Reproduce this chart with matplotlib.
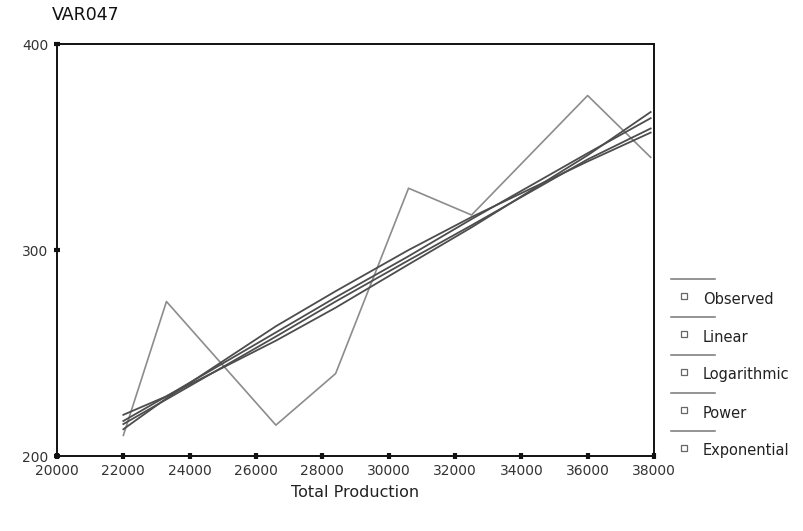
import matplotlib
matplotlib.use("Agg")
import matplotlib.pyplot as plt
from matplotlib.lines import Line2D

# values
production = [22000, 23300, 26600, 28400, 30600, 32500, 36000, 37900]
observed = [210, 275, 215, 240, 330, 317, 375, 345]
linear = [217, 229, 260, 277, 297, 315, 347, 364]
logarithmic = [213, 228, 263, 280, 300, 316, 343, 357]
power = [215.5, 227.5, 258, 275, 295, 312, 344, 359]
exponential = [220, 229, 256, 272, 293, 311, 346, 367]

legend_labels = ["Observed", "Linear", "Logarithmic", "Power", "Exponential"]
x_ticks = list(range(20000, 38001, 2000))
y_ticks = [200, 300, 400]

fig = plt.figure(figsize=(8.04, 5.31), dpi=100)
ax = fig.add_axes([0.0709, 0.1412, 0.7425, 0.7759])

ax.plot(production, observed, color="#8c8c8c", lw=1.2, zorder=2)
for fit in [linear, logarithmic, power, exponential]:
    ax.plot(production, fit, color="#4d4d4d", lw=1.3, zorder=3)

ax.set_xlim(20000, 38000)
ax.set_ylim(200, 400)
ax.set_xticks(x_ticks)
ax.set_yticks(y_ticks)
ax.tick_params(direction="inout", length=4, width=3, colors="#111111",
               labelcolor="#333333", labelsize=10, pad=4)
for spine in ax.spines.values():
    spine.set_color("#111111")
    spine.set_linewidth(1.4)

ax.set_xlabel("Total Production", fontsize=11.5, color="#222222", labelpad=5)
fig.text(0.065, 0.972, "VAR047", fontsize=12.5, color="#111111", va="center")

# legend drawn at the right, SPSS style: sample line above each label
for i, label in enumerate(legend_labels):
    y_line = 1 - (279 + 38 * i) / 531
    y_text = 1 - (299 + 38 * i) / 531
    fig.add_artist(Line2D([671 / 804, 715 / 804], [y_line, y_line],
                          transform=fig.transFigure, color="#777777", lw=1.1))
    fig.add_artist(Line2D([684 / 804], [y_text + 0.006], transform=fig.transFigure,
                          marker="s", markersize=4, markerfacecolor="white",
                          markeredgecolor="#666666", markeredgewidth=0.9, lw=0))
    fig.text(703 / 804, y_text, label, fontsize=10.5, color="#222222", va="center")

fig.savefig("out.png", dpi=100)
